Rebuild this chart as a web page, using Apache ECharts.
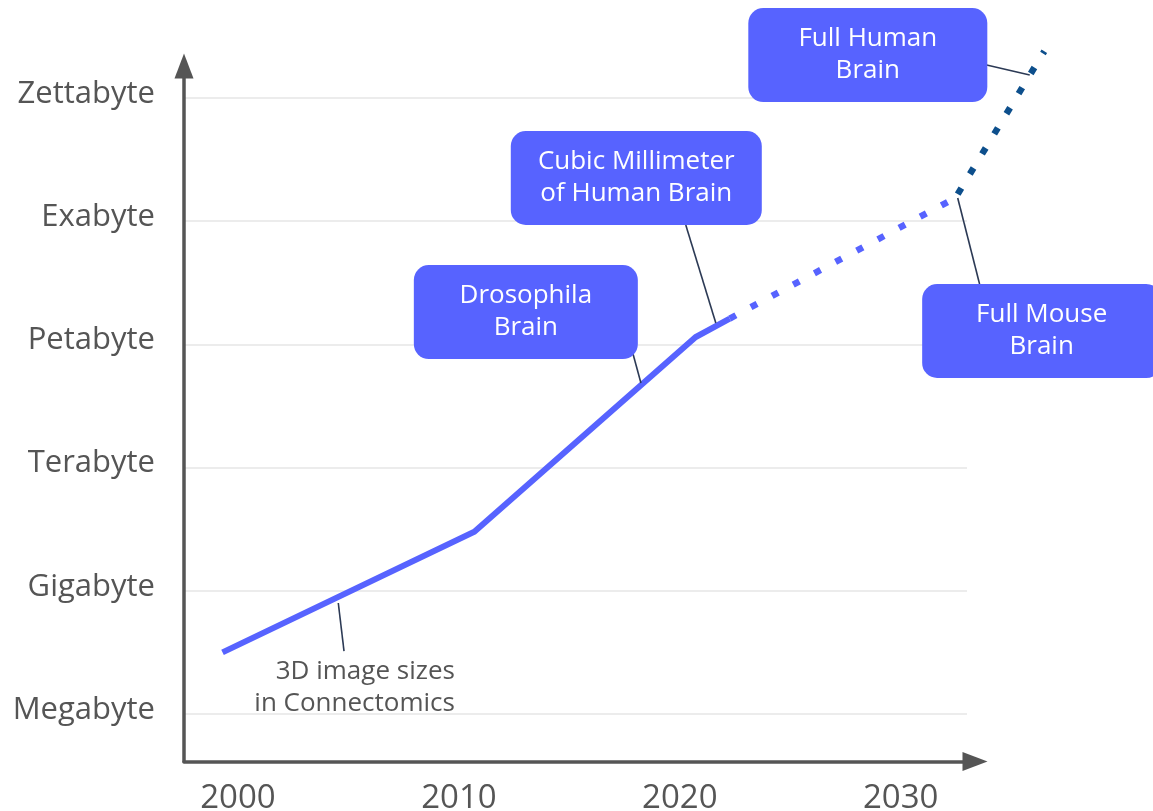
<!DOCTYPE html>
<html>
<head>
<meta charset="utf-8">
<script src="https://cdn.jsdelivr.net/npm/echarts@6/dist/echarts.min.js"></script>
<style>
html,body{margin:0;padding:0;background:#fff;}
#chart{width:1153px;height:811px;}
</style>
</head>
<body>
<div id="chart"></div>
<script>
// ---- data ----
const sizeLabels = ['Megabyte', 'Gigabyte', 'Terabyte', 'Petabyte', 'Exabyte', 'Zettabyte'];
const sizeTicks = [0, 1, 2, 3, 4, 5];
const yearTicks = [2000, 2010, 2020, 2030];

// measured history (solid)
const yearsMeasured = [1999.3, 2010.7, 2020.72, 2022.26];
const sizeMeasured = [0.50, 1.48, 3.06, 3.21];
// projection up to full mouse brain (light dotted)
const yearsProjected = [2022.26, 2032.58];
const sizeProjected = [3.21, 4.20];
// projection up to full human brain (dark dotted)
const yearsFar = [2032.58, 2036.5];
const sizeFar = [4.22, 5.38];

const annotationTexts = ['Drosophila\nBrain', 'Cubic Millimeter\nof Human Brain', 'Full Human\nBrain', 'Full Mouse\nBrain'];
const captionText = '3D image sizes\nin Connectomics';

// ---- helpers ----
const zip = (xs, ys) => xs.map((x, i) => [x, ys[i]]);
const FONT = '"Open Sans", "Noto Sans", sans-serif';
const BOX = '#5763FF';
const AXIS = '#555555';

// annotation box placement (year, size-level) and box widths
const boxes = [
  {text: annotationTexts[0], at: [2013.03, 3.263], w: 224},
  {text: annotationTexts[1], at: [2018.03, 4.351], w: 251},
  {text: annotationTexts[2], at: [2028.51, 5.349], w: 239},
  {text: annotationTexts[3], at: [2036.38, 3.109], w: 239}
];
const leaders = [
  [[2004.54, 0.901], [2004.80, 0.511]],
  [[2017.87, 2.930], [2018.24, 2.687]],
  [[2020.27, 3.969], [2021.63, 3.174]],
  [[2033.89, 5.268], [2035.84, 5.187]],
  [[2032.58, 4.188], [2033.57, 3.490]]
];

const chart = echarts.init(document.getElementById('chart'), null, {renderer: 'canvas'});

const hiddenAxis = {
  show: false, type: 'value',
  axisLine: {show: false}, axisTick: {show: false}, axisLabel: {show: false}, splitLine: {show: false}
};

const option = {
  animation: false,
  backgroundColor: '#ffffff',
  textStyle: {fontFamily: FONT},
  grid: [
    {left: 184, right: 186, top: 66, bottom: 49.5, containLabel: false, outerBoundsMode: 'none'},
    // same scale, wider drawing area so marks beyond the axes are not clipped
    {left: 184, right: 0, top: 0, bottom: 49.5, containLabel: false, outerBoundsMode: 'none'}
  ],
  xAxis: [
    {
      type: 'value', gridIndex: 0,
      min: 1997.556,
      max: 2033.0,
      axisLine: {
        show: true, onZero: false,
        lineStyle: {color: AXIS, width: 3.5},
        symbol: ['none', 'triangle'],
        symbolSize: [19, 25],
        symbolOffset: [0, 8]
      },
      axisTick: {show: false, customValues: yearTicks},
      axisLabel: {
        customValues: yearTicks,
        color: AXIS, fontSize: 33, fontFamily: FONT, margin: 21,
        formatter: v => String(v)
      },
      splitLine: {show: false}
    },
    Object.assign({}, hiddenAxis, {gridIndex: 1, min: 1997.556, max: 2041.42})
  ],
  yAxis: [
    {
      type: 'value', gridIndex: 0,
      min: -0.3856,
      max: 5.26,
      axisLine: {
        show: true, onZero: false,
        lineStyle: {color: AXIS, width: 3.5},
        symbol: ['none', 'triangle'],
        symbolSize: [19, 25],
        symbolOffset: [0, 0]
      },
      axisTick: {show: false, customValues: sizeTicks},
      axisLabel: {
        customValues: sizeTicks,
        color: AXIS, fontSize: 31, fontFamily: FONT, margin: 29,
        formatter: v => '{t|' + (sizeLabels[Math.round(v)] || '') + '}',
        rich: {t: {color: AXIS, fontSize: 31, fontFamily: FONT, lineHeight: 38, padding: [0, 0, 8, 0]}}
      },
      splitLine: {show: true, lineStyle: {color: '#ececec', width: 2}}
    },
    Object.assign({}, hiddenAxis, {gridIndex: 1, min: -0.3856, max: 5.7958})
  ],
  series: [
    {
      type: 'line', name: 'measured', z: 3, xAxisIndex: 1, yAxisIndex: 1,
      data: zip(yearsMeasured, sizeMeasured),
      showSymbol: false, clip: false,
      lineStyle: {color: BOX, width: 6, cap: 'butt', join: 'miter'}
    },
    {
      type: 'line', name: 'projected', z: 3, xAxisIndex: 1, yAxisIndex: 1,
      data: zip(yearsProjected, sizeProjected),
      showSymbol: false, clip: false,
      lineStyle: {color: BOX, width: 6.5, type: [7, 17], cap: 'butt'}
    },
    {
      type: 'line', name: 'far', z: 3, xAxisIndex: 1, yAxisIndex: 1,
      data: zip(yearsFar, sizeFar),
      showSymbol: false, clip: false,
      lineStyle: {color: '#0D4F8C', width: 6.5, type: [7, 16.5], cap: 'butt'}
    },
    {
      type: 'lines', coordinateSystem: 'cartesian2d', z: 4, silent: true, clip: false,
      xAxisIndex: 1, yAxisIndex: 1,
      data: leaders.map(c => ({coords: c})),
      lineStyle: {color: '#2C3A55', width: 1.6, opacity: 1, curveness: 0},
      polyline: false
    },
    {
      type: 'scatter', z: 6, silent: true, clip: false, xAxisIndex: 1, yAxisIndex: 1,
      symbolSize: 0,
      itemStyle: {opacity: 1},
      data: boxes.map(b => ({
        name: b.text, value: b.at,
        label: {backgroundColor: BOX, borderRadius: 15, width: b.w, padding: [15, 0, 15, 0]}
      })),
      label: {
        show: true, position: 'inside',
        formatter: p => p.name,
        color: '#ffffff', fontSize: 26, lineHeight: 32, fontFamily: FONT,
        align: 'center', verticalAlign: 'middle'
      }
    },
    {
      type: 'scatter', z: 6, silent: true, clip: false, xAxisIndex: 1, yAxisIndex: 1,
      symbolSize: 0,
      itemStyle: {opacity: 1},
      data: [{name: captionText, value: [2009.82, 0.211]}],
      label: {
        show: true, position: 'inside', formatter: p => p.name,
        color: AXIS, fontSize: 26, lineHeight: 32, fontFamily: FONT,
        align: 'right', verticalAlign: 'middle'
      }
    }
  ]
};
chart.setOption(option);
</script>
</body>
</html>
